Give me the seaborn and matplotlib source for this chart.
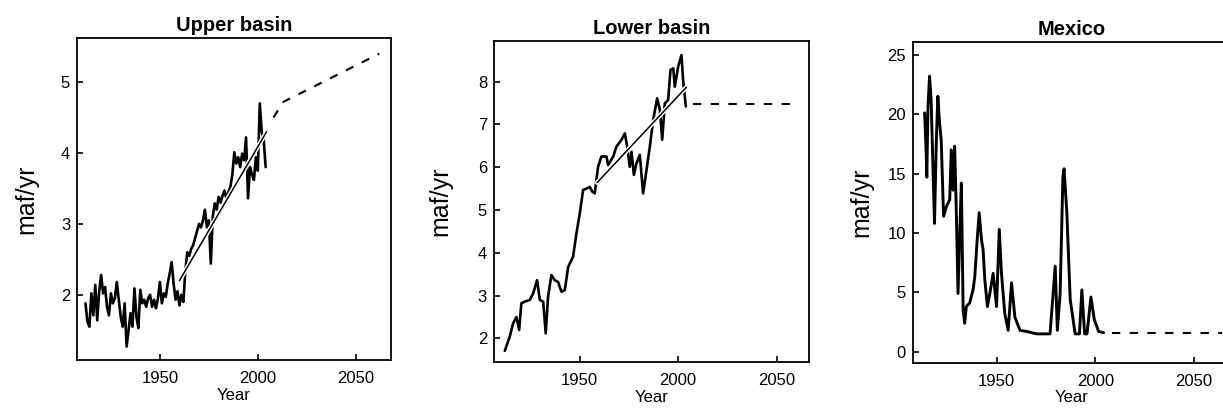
import numpy as np
import pandas as pd
import matplotlib
matplotlib.use("Agg")
import matplotlib.pyplot as plt
import matplotlib.patheffects as pe
import seaborn as sns

# ---------------- data ----------------
upper_years = list(range(1912, 2005))
upper_vals = [1.88, 1.62, 1.55, 2.02, 1.71, 2.14, 1.64, 2.05, 2.28, 2.02,
              2.11, 1.83, 1.71, 2.02, 1.88, 1.95, 2.18, 1.93, 1.69, 1.55,
              1.88, 1.27, 1.50, 1.74, 1.55, 2.09, 1.69, 1.53, 2.07, 1.88,
              1.93, 1.83, 1.95, 2.00, 1.83, 1.93, 1.81, 1.95, 2.18, 1.88,
              2.02, 1.97, 2.16, 2.30, 2.46, 2.16, 1.93, 2.05, 1.85, 2.00,
              1.90, 2.35, 2.60, 2.55, 2.65, 2.70, 2.80, 2.90, 3.00, 2.95,
              3.05, 3.20, 2.95, 3.05, 2.44, 3.10, 3.29, 3.20, 3.38, 3.30,
              3.40, 3.47, 3.35, 3.45, 3.52, 3.70, 4.01, 3.85, 3.94, 3.80,
              3.99, 3.90, 4.22, 3.36, 3.80, 3.70, 3.62, 3.94, 3.75, 4.70,
              4.30, 4.18, 3.80]
upper_trend_years = [1960, 2004.5]
upper_trend_vals = [2.20, 4.30]
upper_proj_years = [2008, 2013, 2062]
upper_proj_vals = [4.50, 4.72, 5.40]

lower_years = [1911.9, 1914.4, 1916.1, 1917.8, 1919.2, 1920.3, 1922.0, 1924.6,
               1926.3, 1928.3, 1929.7, 1931.4, 1932.7, 1933.9, 1935.6, 1937.3,
               1939.0, 1940.7, 1942.4, 1944.1, 1946.6, 1948.3, 1950.0, 1951.7,
               1953.4, 1955.1, 1956.4, 1957.6, 1959.3, 1961.0, 1963.6, 1964.4,
               1967.0, 1968.6, 1971.2, 1972.9, 1974.1, 1975.4, 1976.3, 1977.5,
               1978.8, 1980.5, 1982.2, 1983.9, 1985.6, 1987.3, 1989.3, 1990.7,
               1991.9, 1993.2, 1994.9, 1996.1, 1997.5, 1998.3, 2000.0, 2001.7,
               2002.5, 2003.9]
lower_vals = [1.71, 2.04, 2.35, 2.50, 2.20, 2.82, 2.86, 2.90,
              3.05, 3.36, 2.90, 2.86, 2.12, 2.98, 3.48, 3.36,
              3.32, 3.09, 3.13, 3.67, 3.91, 4.45, 4.92, 5.47,
              5.50, 5.54, 5.43, 5.39, 6.01, 6.25, 6.25, 6.05,
              6.25, 6.48, 6.64, 6.79, 6.48, 6.01, 6.36, 5.82,
              6.09, 6.29, 5.39, 5.93, 6.48, 7.10, 7.61, 7.34,
              6.64, 7.49, 7.57, 8.27, 8.31, 7.88, 8.35, 8.62,
              8.04, 7.42]
lower_trend_years = [1958.8, 2004.2]
lower_trend_vals = [5.64, 7.87]
lower_proj_years = [2007.6, 2057.6]
lower_proj_vals = [7.47, 7.47]

mex_years = [1913.6, 1914.4, 1914.7, 1915.3, 1916.1, 1916.9, 1917.8, 1918.6,
             1919.5, 1920.3, 1921.2, 1922.0, 1923.2, 1924.6, 1926.3, 1927.1,
             1928.0, 1928.8, 1929.7, 1930.5, 1931.4, 1932.2, 1933.1, 1933.9,
             1934.7, 1936.4, 1938.1, 1939.0, 1940.2, 1941.2, 1942.4, 1943.2,
             1944.1, 1945.4, 1946.6, 1948.3, 1950.0, 1951.4, 1952.5, 1954.2,
             1955.9, 1957.6, 1959.3, 1961.9, 1965.3, 1970.3, 1977.1, 1979.7,
             1980.8, 1982.2, 1983.6, 1984.2, 1985.6, 1987.3, 1989.8, 1992.0,
             1993.2, 1994.6, 1995.8, 1997.8, 1999.5, 2001.7, 2004.2]
mex_vals = [20.1, 16.7, 14.7, 20.6, 23.2, 21.2, 15.6, 10.8,
            17.6, 21.5, 19.2, 17.8, 11.4, 12.2, 12.8, 17.0,
            13.6, 17.3, 11.4, 4.9, 10.0, 14.2, 3.5, 2.4,
            3.8, 4.1, 5.2, 6.3, 9.4, 11.7, 9.4, 8.6,
            6.0, 3.8, 4.9, 6.6, 3.8, 10.3, 6.6, 3.2,
            1.8, 5.8, 2.9, 1.8, 1.7, 1.5, 1.5, 7.2,
            1.8, 4.9, 14.7, 15.4, 11.7, 4.4, 1.5, 1.5,
            5.2, 1.5, 1.5, 4.6, 2.7, 1.7, 1.6]
mex_proj_years = [2008.5, 2064.0]
mex_proj_vals = [1.55, 1.55]

titles = ["Upper basin", "Lower basin", "Mexico"]
ylabel = "maf/yr"
xlabel = "Year"
xticks = [1950, 2000, 2050]
yticks_list = [[2, 3, 4, 5], [2, 3, 4, 5, 6, 7, 8], [0, 5, 10, 15, 20, 25]]

# ---------------- style ----------------
sns.set_theme(style="ticks")
plt.rcParams["font.family"] = ["Liberation Sans", "DejaVu Sans"]
plt.rcParams["text.color"] = "black"
plt.rcParams["axes.labelcolor"] = "black"
plt.rcParams["xtick.color"] = "black"
plt.rcParams["ytick.color"] = "black"

fig = plt.figure(figsize=(12.23, 4.09), dpi=100)
positions = [[0.063, 0.1198, 0.2567, 0.787],
             [0.4039, 0.1149, 0.2576, 0.785],
             [0.7465, 0.1125, 0.2589, 0.7856]]
xlims = [(1907.7, 2068), (1906.4, 2066.5), (1907.7, 2068)]
ylims = [(1.08, 5.62), (1.45, 8.95), (-0.95, 26.1)]
label_x = [-0.124, -0.133, -0.126]

series = [
    (upper_years, upper_vals, upper_trend_years, upper_trend_vals, upper_proj_years, upper_proj_vals),
    (lower_years, lower_vals, lower_trend_years, lower_trend_vals, lower_proj_years, lower_proj_vals),
    (mex_years, mex_vals, None, None, mex_proj_years, mex_proj_vals),
]

for i, (yrs, vals, ty, tv, py, pv) in enumerate(series):
    ax = fig.add_axes(positions[i])
    df = pd.DataFrame({"year": yrs, "val": vals})
    sns.lineplot(data=df, x="year", y="val", ax=ax, color="black",
                 lw=1.9 if i != 2 else 2.1, estimator=None, sort=False)
    if ty is not None:
        dft = pd.DataFrame({"year": ty, "val": tv})
        sns.lineplot(data=dft, x="year", y="val", ax=ax, color="black", lw=1.1,
                     estimator=None,
                     path_effects=[pe.Stroke(linewidth=3.2, foreground="white"), pe.Normal()])
    dfp = pd.DataFrame({"year": py, "val": pv})
    sns.lineplot(data=dfp, x="year", y="val", ax=ax, color="black", lw=1.5,
                 estimator=None, dashes=False, linestyle=(0, (4, 4.5)))

    ax.set_xlim(*xlims[i])
    ax.set_ylim(*ylims[i])
    ax.set_xticks(xticks)
    ax.set_yticks(yticks_list[i])
    ax.tick_params(direction="in", length=4, width=1.2, colors="black",
                   labelsize=12)
    ax.tick_params(axis="x", pad=8)
    ax.tick_params(axis="y", pad=5)
    for sp in ax.spines.values():
        sp.set_visible(True)
        sp.set_linewidth(1.3)
        sp.set_color("black")
    ax.set_title(titles[i], fontsize=14.5, fontweight="bold", pad=5, color="black")
    ax.set_xlabel(xlabel, fontsize=12, labelpad=1, color="black")
    ax.set_ylabel(ylabel, fontsize=18, color="black")
    ax.yaxis.set_label_coords(label_x[i], 0.5)
    ax.grid(False)

fig.savefig("out.png", dpi=100, facecolor="white")
